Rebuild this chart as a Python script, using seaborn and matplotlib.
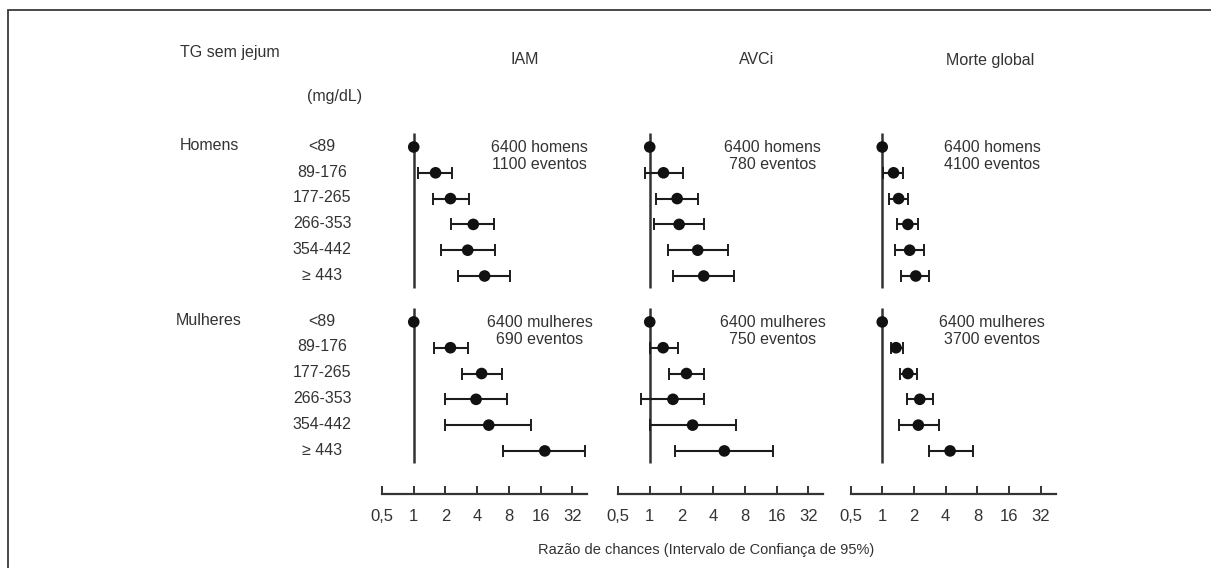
import numpy as np
import pandas as pd
import matplotlib
matplotlib.use("Agg")
import matplotlib.pyplot as plt
import matplotlib.transforms as mtransforms
from matplotlib.patches import Rectangle
import seaborn as sns

# ---------------- data ----------------
categories = ["<89", "89-176", "177-265", "266-353", "354-442", "\u2265 443"]
groups = ["Homens", "Mulheres"]
outcomes = ["IAM", "AVCi", "Morte global"]

iam_men_or = [1, 1.61, 2.23, 3.67, 3.25, 4.7]
iam_men_lo = [np.nan, 1.10, 1.52, 2.28, 1.83, 2.64]
iam_men_hi = [np.nan, 2.32, 3.36, 5.76, 5.96, 8.2]
iam_wom_or = [1, 2.23, 4.4, 3.9, 5.15, 17.5]
iam_wom_lo = [np.nan, 1.55, 2.9, 1.99, 1.99, 7.0]
iam_wom_hi = [np.nan, 3.25, 6.8, 7.7, 13.0, 42.0]

avc_men_or = [1, 1.35, 1.82, 1.9, 2.85, 3.25]
avc_men_lo = [np.nan, 0.90, 1.15, 1.09, 1.49, 1.66]
avc_men_hi = [np.nan, 2.07, 2.85, 3.25, 5.5, 6.3]
avc_wom_or = [1, 1.34, 2.23, 1.66, 2.55, 5.1]
avc_wom_lo = [np.nan, 1.0, 1.51, 0.83, 1.0, 1.75]
avc_wom_hi = [np.nan, 1.84, 3.25, 3.25, 6.6, 14.7]

mor_men_or = [1, 1.28, 1.43, 1.75, 1.82, 2.08]
mor_men_lo = [np.nan, 1.02, 1.17, 1.38, 1.33, 1.50]
mor_men_hi = [np.nan, 1.57, 1.75, 2.20, 2.48, 2.80]
mor_wom_or = [1, 1.35, 1.75, 2.27, 2.2, 4.4]
mor_wom_lo = [np.nan, 1.20, 1.47, 1.72, 1.45, 2.75]
mor_wom_hi = [np.nan, 1.57, 2.13, 3.00, 3.42, 7.2]

notes_men = ["6400 homens\n1100 eventos", "6400 homens\n780 eventos", "6400 homens\n4100 eventos"]
notes_wom = ["6400 mulheres\n690 eventos", "6400 mulheres\n750 eventos", "6400 mulheres\n3700 eventos"]

tick_vals = [0.5, 1, 2, 4, 8, 16, 32]
tick_labels = ["0,5", "1", "2", "4", "8", "16", "32"]

# ---------------- build table ----------------
series = {
    "IAM": [(iam_men_or, iam_men_lo, iam_men_hi), (iam_wom_or, iam_wom_lo, iam_wom_hi)],
    "AVCi": [(avc_men_or, avc_men_lo, avc_men_hi), (avc_wom_or, avc_wom_lo, avc_wom_hi)],
    "Morte global": [(mor_men_or, mor_men_lo, mor_men_hi), (mor_wom_or, mor_wom_lo, mor_wom_hi)],
}
group_offset = [0.0, 6.78]
rows = []
for out in outcomes:
    for gi, g in enumerate(groups):
        o, lo, hi = series[out][gi]
        for ci, c in enumerate(categories):
            rows.append(dict(outcome=out, group=g, cat=c, row=group_offset[gi] + ci,
                             OR=o[ci], lo=lo[ci], hi=hi[ci]))
df = pd.DataFrame(rows)

# ---------------- style ----------------
sns.set_theme(style="white")
plt.rcParams["font.family"] = ["Liberation Sans", "DejaVu Sans"]
TXT = "#333333"
INK = "#1c1c1c"
FS = 11.5

W, H = 1211, 568
fig = plt.figure(figsize=(W / 100, H / 100), dpi=100)
fig.patch.set_facecolor("white")

# frame around figure
fig.add_artist(Rectangle((8 / W, -0.05), 1.1, (H - 10) / H + 0.05, transform=fig.transFigure,
                         fill=False, lw=1.3, ec="#3a3a3a", clip_on=False))

row_px = 25.8
top_px, bot_px = 125, 494
first_row_px = 147
ylim_top = -(first_row_px - top_px) / row_px
ylim_bot = (bot_px - first_row_px) / row_px

panel_left = [382, 618, 850.5]
panel_w = 205
xmax = 44
note_xfrac = [0.77, 0.755, 0.69]
title_x = [525, 757, 990]

for i, out in enumerate(outcomes):
    ax = fig.add_axes([panel_left[i] / W, 1 - bot_px / H, panel_w / W, (bot_px - top_px) / H])
    ax.set_facecolor("none")
    d = df[df.outcome == out]

    # reference lines at OR = 1
    for gi in range(2):
        r = d[d.group == groups[gi]]["row"]
        ax.vlines(1, r.min() - 0.55, r.max() + 0.45, color="#333333", lw=1.8, zorder=1)

    e = d.dropna(subset=["lo"])
    ax.errorbar(e["OR"], e["row"], xerr=[e["OR"] - e["lo"], e["hi"] - e["OR"]],
                fmt="none", ecolor=INK, elinewidth=1.5, capsize=4, capthick=1.4, zorder=2)
    sns.scatterplot(data=d, x="OR", y="row", ax=ax, color="#111111", s=70,
                    edgecolor="none", legend=False, zorder=3)

    ax.set_xscale("log", base=2)
    ax.set_xlim(0.5, xmax)
    ax.set_ylim(ylim_bot, ylim_top)
    ax.set_xticks(tick_vals)
    ax.set_xticklabels(tick_labels)
    ax.minorticks_off()
    ax.set_yticks([])
    ax.set_xlabel("")
    ax.set_ylabel("")
    for s in ["top", "right", "left"]:
        ax.spines[s].set_visible(False)
    ax.spines["bottom"].set_color("#333333")
    ax.spines["bottom"].set_linewidth(1.6)
    ax.tick_params(axis="x", direction="in", length=6, width=1.4, color="#333333",
                   labelsize=12, labelcolor=TXT, pad=11, bottom=True)

    tr = mtransforms.blended_transform_factory(ax.transAxes, ax.transData)
    ax.text(note_xfrac[i], group_offset[0] + 0.35, notes_men[i], transform=tr, ha="center",
            va="center", fontsize=FS, color=TXT, linespacing=1.15)
    ax.text(note_xfrac[i], group_offset[1] + 0.35, notes_wom[i], transform=tr, ha="center",
            va="center", fontsize=FS, color=TXT, linespacing=1.15)

    fig.text(title_x[i] / W, 1 - 60 / H, out, ha="center", va="center", fontsize=FS, color=TXT)

    if i == 0:
        trf = mtransforms.blended_transform_factory(fig.transFigure, ax.transData)
        for gi, g in enumerate(groups):
            ax.text(209 / W, group_offset[gi] - 0.05, g, transform=trf, ha="center", va="center",
                    fontsize=FS, color=TXT, clip_on=False)
            for ci, c in enumerate(categories):
                ax.text(322 / W, group_offset[gi] + ci - 0.03, c, transform=trf, ha="center",
                        va="center", fontsize=FS, color=TXT, clip_on=False)

fig.text(230 / W, 1 - 53 / H, "TG sem jejum", ha="center", va="center", fontsize=FS, color=TXT)
fig.text(335 / W, 1 - 97 / H, "(mg/dL)", ha="center", va="center", fontsize=FS, color=TXT)
fig.text(706 / W, 1 - 550 / H, "Razão de chances (Intervalo de Confiança de 95%)",
         ha="center", va="center", fontsize=10.5, color=TXT)

fig.savefig("out.png", dpi=100, facecolor="white")
